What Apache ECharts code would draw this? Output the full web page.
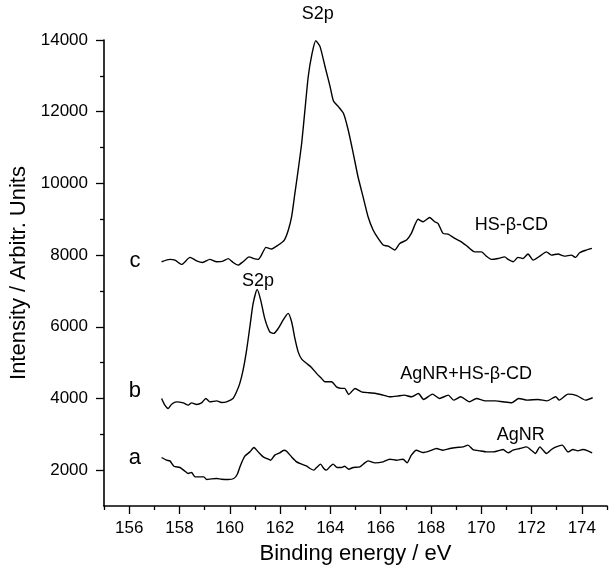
<!DOCTYPE html>
<html>
<head>
<meta charset="utf-8">
<script src="https://cdn.jsdelivr.net/npm/echarts@6/dist/echarts.min.js"></script>
<style>
html,body{margin:0;padding:0;background:#fff;}
#chart{width:612px;height:566px;}
</style>
</head>
<body>
<div id="chart"></div>
<script>
// binding energy (eV) / intensity
var energyC = [157.29,157.62,157.82,158.09,158.42,158.68,158.92,159.21,159.48,159.71,159.94,160.13,160.33,160.53,160.77,160.96,161.13,161.26,161.44,161.66,161.93,162.17,162.33,162.46,162.59,162.72,162.86,162.99,163.12,163.26,163.42,163.59,163.79,163.99,164.12,164.32,164.52,164.71,164.91,165.10,165.30,165.50,165.70,165.90,166.10,166.30,166.56,166.76,167.03,167.22,167.49,167.69,167.95,168.15,168.28,168.48,168.68,168.95,169.21,169.47,169.74,170.01,170.20,170.40,170.67,170.93,171.07,171.27,171.46,171.66,171.86,172.06,172.33,172.59,172.79,173.05,173.31,173.58,173.75,173.91,174.18,174.40];
var intensC = [7813,7880,7860,7740,7935,7840,7795,7880,7815,7825,7900,7795,7720,7815,7950,7900,7880,8000,8215,8170,8280,8420,8700,9070,9720,10370,11120,12050,12975,13580,13980,13815,13255,12700,12305,12140,11955,11490,10840,10185,9630,9070,8700,8465,8280,8250,8140,8325,8420,8605,9000,8930,9050,8930,8885,8605,8585,8465,8370,8230,8090,8090,7970,7880,7905,7950,7880,7815,7935,7905,8030,7860,7970,8090,8000,8030,7970,8000,7935,8065,8140,8185];

var energyB = [157.29,157.42,157.55,157.69,157.89,158.15,158.35,158.48,158.68,158.88,159.05,159.21,159.48,159.67,159.87,160.13,160.27,160.40,160.53,160.67,160.80,160.93,161.09,161.23,161.39,161.59,161.75,161.93,162.12,162.32,162.46,162.59,162.72,162.86,163.05,163.25,163.45,163.65,163.78,164.05,164.24,164.44,164.57,164.73,164.84,164.98,165.24,165.54,165.82,166.10,166.38,166.66,166.94,167.22,167.50,167.71,168.06,168.34,168.69,168.90,169.18,169.53,169.81,170.16,170.58,170.86,171.21,171.49,171.84,172.26,172.61,172.96,173.10,173.45,173.80,174.15,174.43];
var intensB = [4000,3813,3720,3840,3905,3877,3813,3877,3833,3877,4000,3905,3933,3888,3905,4000,4185,4420,4790,5350,6000,6650,7042,6745,6233,5860,5815,5955,6185,6373,6140,5675,5300,5097,4980,4865,4700,4560,4465,4465,4325,4280,4280,4110,4185,4279,4185,4158,4139,4093,4046,4065,4093,4046,4139,3972,4120,4000,4093,3953,4046,3907,4000,3934,3934,3907,3879,4000,3953,3972,3934,4046,3953,4120,4080,3953,4020];

var energyA = [157.29,157.49,157.62,157.78,158.02,158.22,158.35,158.48,158.62,158.81,158.97,159.08,159.28,159.48,159.67,159.94,160.16,160.30,160.43,160.60,160.80,160.96,161.13,161.33,161.53,161.62,161.79,161.99,162.15,162.26,162.46,162.66,162.86,163.05,163.19,163.35,163.45,163.61,163.74,163.84,163.98,164.11,164.27,164.44,164.57,164.73,164.91,165.17,165.37,165.50,165.77,166.10,166.36,166.63,166.89,167.05,167.22,167.42,167.69,167.95,168.22,168.48,168.75,169.01,169.28,169.47,169.67,169.94,170.20,170.47,170.67,170.87,171.07,171.26,171.53,171.80,171.99,172.15,172.33,172.48,172.59,172.79,172.98,173.22,173.45,173.65,173.84,174.04,174.24,174.41];
var intensA = [2353,2278,2258,2110,2074,1970,1907,1935,1812,1812,1812,1740,1757,1767,1748,1740,1767,1887,2138,2390,2510,2632,2510,2370,2306,2278,2418,2483,2557,2529,2370,2232,2167,2120,2046,2000,2074,2167,2046,2000,2093,2167,2074,2074,2110,2027,2074,2093,2204,2258,2204,2232,2306,2278,2306,2204,2418,2557,2492,2539,2604,2557,2604,2632,2650,2697,2576,2539,2510,2510,2539,2576,2483,2557,2604,2650,2557,2464,2650,2539,2464,2576,2650,2697,2510,2576,2539,2576,2539,2483];

var xTicks = [156,158,160,162,164,166,168,170,172,174];
var xMinorTicks = [155,157,159,161,163,165,167,169,171,173,175];
var yTicks = [2000,4000,6000,8000,10000,12000,14000];
var yMinorTicks = [3000,5000,7000,9000,11000,13000];

// labels placed in data coordinates
var notes = [
  {text:'S2p', x:163.50, y:14730},
  {text:'S2p', x:161.12, y:7270},
  {text:'c', x:156.23, y:7830, big:true},
  {text:'b', x:156.23, y:4200, big:true},
  {text:'a', x:156.23, y:2330, big:true},
  {text:'HS-β-CD', x:171.20, y:8840},
  {text:'AgNR+HS-β-CD', x:169.40, y:4690},
  {text:'AgNR', x:171.57, y:2980}
];

function zip(xs, ys){
  var out = [];
  for (var i = 0; i < xs.length; i++) out.push([xs[i], ys[i]]);
  return out;
}

var font = 'Liberation Sans, Arial, sans-serif';
var chart = echarts.init(document.getElementById('chart'));

function plain(v){ return String(v); }

function xAxisDef(ticks, len, labels){
  return {
    type:'value', min:155, max:175, position:'bottom',
    axisLine:{show:labels, onZero:false, lineStyle:{color:'#000', width:1.6}},
    axisTick:{show:true, inside:false, length:len, customValues:ticks, lineStyle:{color:'#000', width:1.3}},
    axisLabel:{show:labels, customValues:ticks, formatter:plain, margin:14, color:'#000', fontSize:17, fontFamily:font},
    splitLine:{show:false},
    name: labels ? 'Binding energy / eV' : '',
    nameLocation:'middle', nameGap:37,
    nameTextStyle:{color:'#000', fontSize:22, fontFamily:font}
  };
}
function yAxisDef(ticks, len, labels){
  return {
    type:'value', min:1000, max:14000, position:'left',
    axisLine:{show:labels, onZero:false, lineStyle:{color:'#000', width:1.6}},
    axisTick:{show:true, inside:false, length:len, customValues:ticks, lineStyle:{color:'#000', width:1.3}},
    axisLabel:{show:labels, customValues:ticks, formatter:plain, margin:16, color:'#000', fontSize:17, fontFamily:font},
    splitLine:{show:false},
    name: labels ? 'Intensity / Arbitr. Units' : '',
    nameLocation:'middle', nameGap:74, nameRotate:90,
    nameTextStyle:{color:'#000', fontSize:22, fontFamily:font}
  };
}

function lineSeries(name, xs, ys){
  return {
    name:name, type:'line', xAxisIndex:0, yAxisIndex:0,
    data:zip(xs, ys), showSymbol:false, smooth:0.2,
    lineStyle:{color:'#000', width:1.4}, animation:false
  };
}

chart.setOption({
  backgroundColor:'#fff',
  animation:false,
  grid:{left:104, right:5, top:40, bottom:60, containLabel:false, outerBoundsMode:'none'},
  xAxis:[xAxisDef(xTicks, 8, true), xAxisDef(xMinorTicks, 4, false)],
  yAxis:[yAxisDef(yTicks, 8, true), yAxisDef(yMinorTicks, 4, false)],
  series:[
    lineSeries('c', energyC, intensC),
    lineSeries('b', energyB, intensB),
    lineSeries('a', energyA, intensA)
  ]
});

// annotations
var texts = notes.map(function(n){
  var p = chart.convertToPixel({gridIndex:0}, [n.x, n.y]);
  return {
    type:'text', x:p[0], y:p[1],
    style:{text:n.text, fill:'#000', font:(n.big ? '22px ' : '18px ') + font, align:'center', verticalAlign:'middle'}
  };
});
chart.setOption({graphic:texts});
</script>
</body>
</html>
